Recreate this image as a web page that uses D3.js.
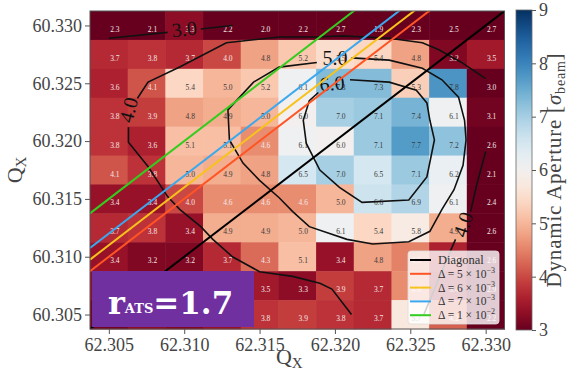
<!DOCTYPE html>
<html>
<head>
<meta charset="utf-8">
<script src="https://cdn.jsdelivr.net/npm/d3@7"></script>
<style>
  body { margin: 0; background: #fff; }
  svg { display: block; font-family: 'Liberation Serif', serif; }
</style>
</head>
<body>
<div id="chart"></div>
<script>
// grid of tunes (cell centres)
const qxValues = [62.305, 62.3075, 62.310, 62.3125, 62.315, 62.3175, 62.320, 62.3225, 62.325, 62.3275, 62.330];
const qyValues = [60.330, 60.3275, 60.325, 60.3225, 60.320, 60.3175, 60.315, 60.3125, 60.310, 60.3075, 60.305];

// dynamic aperture, rows from top (60.330) to bottom (60.305)
const daGrid = [
  [2.3, 2.1, 3.3, 2.2, 2.0, 2.2, 2.7, 1.9, 2.3, 2.5, 2.7],
  [3.7, 3.8, 3.7, 4.0, 4.8, 5.2, 5.5, 5.4, 4.8, 3.2, 3.5],
  [3.6, 4.1, 5.4, 5.0, 5.2, 6.1, 7.3, 7.3, 5.3, 7.8, 3.0],
  [3.8, 3.9, 4.8, 4.9, 5.0, 6.0, 7.0, 7.1, 7.4, 6.1, 3.1],
  [3.8, 3.6, 5.1, 5.1, 4.6, 6.1, 6.0, 7.1, 7.7, 7.2, 2.6],
  [4.1, 3.8, 5.0, 4.9, 4.8, 6.5, 7.0, 6.5, 7.1, 6.2, 2.1],
  [3.4, 3.4, 4.0, 4.6, 4.6, 4.6, 5.0, 6.6, 6.9, 6.1, 2.4],
  [3.7, 3.8, 3.4, 4.9, 4.9, 5.0, 6.1, 5.4, 5.8, 4.9, 2.6],
  [3.4, 3.2, 3.2, 3.7, 4.3, 5.1, 3.4, 4.8, 4.5, 3.6, 2.6],
  [3.3, 3.5, 3.4, 3.6, 3.5, 3.3, 3.9, 3.7, 4.6, 3.4, 2.9],
  [3.1, 3.3, 3.2, 3.4, 3.8, 3.9, 3.8, 3.7, 5.7, 4.2, 2.2]
];

const xTicks = [62.305, 62.310, 62.315, 62.320, 62.325, 62.330];
const yTicks = [60.305, 60.310, 60.315, 60.320, 60.325, 60.330];
const cbarTicks = [3, 4, 5, 6, 7, 8, 9];
const daRange = [3, 9];

// coupling lines Qy = Qx - 2 + delta
const deltas = [0, 0.005, 0.006, 0.007, 0.010];
const deltaMantissa = ['', '5', '6', '7', '1'];
const deltaExponent = ['', '\u22123', '\u22123', '\u22123', '\u22122'];

// contour lines (traced), split where the inline labels sit
const contour30a = [[62.3050, 60.3289], [62.3089, 60.3294]];
const contour30b = [[62.3111, 60.3297], [62.3132, 60.3300]];
const contour40a = [
  [62.3300, 60.3254], [62.3284, 60.3268], [62.3269, 60.3279], [62.3258, 60.3285],
  [62.3236, 60.3289], [62.3205, 60.3291], [62.3187, 60.3290], [62.3163, 60.3290],
  [62.3128, 60.3285], [62.3097, 60.3264], [62.3076, 60.3251], [62.3069, 60.3237]
];
const contour40b = [
  [62.3063, 60.3212], [62.3063, 60.3199], [62.3076, 60.3178], [62.3089, 60.3152],
  [62.3097, 60.3141], [62.3111, 60.3126], [62.3119, 60.3115], [62.3132, 60.3100],
  [62.3150, 60.3087], [62.3172, 60.3083], [62.3190, 60.3077], [62.3198, 60.3072],
  [62.3211, 60.3050]
];
const contour40c = [[62.3300, 60.3191], [62.3294, 60.3162], [62.3290, 60.3139]];
const contour40d = [
  [62.3280, 60.3115], [62.3274, 60.3097], [62.3266, 60.3072], [62.3259, 60.3050]
];
const contour50 = [
  [62.3211, 60.3272], [62.3236, 60.3270], [62.3258, 60.3263], [62.3271, 60.3253],
  [62.3282, 60.3238], [62.3286, 60.3218], [62.3287, 60.3201], [62.3285, 60.3179],
  [62.3279, 60.3158], [62.3271, 60.3141], [62.3263, 60.3122], [62.3249, 60.3113],
  [62.3225, 60.3111], [62.3208, 60.3115], [62.3183, 60.3126], [62.3172, 60.3139],
  [62.3163, 60.3151], [62.3150, 60.3166], [62.3139, 60.3181], [62.3130, 60.3201],
  [62.3129, 60.3227], [62.3146, 60.3251], [62.3163, 60.3264], [62.3188, 60.3268]
];
const contour60 = [
  [62.3210, 60.3253], [62.3236, 60.3251], [62.3254, 60.3244], [62.3261, 60.3233],
  [62.3263, 60.3218], [62.3266, 60.3201], [62.3261, 60.3169], [62.3249, 60.3149],
  [62.3218, 60.3147], [62.3203, 60.3160], [62.3190, 60.3175], [62.3181, 60.3198],
  [62.3179, 60.3218], [62.3183, 60.3235], [62.3189, 60.3242]
];
const contourLabels = [
  ['3.0', 62.3100, 60.3297],
  ['4.0', 62.3063, 60.3227],
  ['4.0', 62.3285, 60.3128],
  ['5.0', 62.3200, 60.3272],
  ['6.0', 62.3198, 60.3250]
];

const W = 568, H = 373;
const margin = { top: 11, left: 90, right: 63.5, bottom: 44 };
const width = W - margin.left - margin.right;
const height = H - margin.top - margin.bottom;
const step = qxValues[1] - qxValues[0];
const stepY = qyValues[0] - qyValues[1];

const svg = d3.select('#chart').append('svg')
  .attr('width', W).attr('height', H);

const x = d3.scaleLinear()
  .domain([qxValues[0] - step / 2, qxValues[qxValues.length - 1] + step / 2])
  .range([0, width]);
const y = d3.scaleLinear()
  .domain([qyValues[qyValues.length - 1] - stepY / 2, qyValues[0] + stepY / 2])
  .range([height, 0]);
const color = d3.scaleSequential(d3.interpolateRdBu).domain(daRange).clamp(true);

const chart = svg.append('g')
  .attr('transform', 'translate(' + margin.left + ',' + margin.top + ')');

chart.append('clipPath').attr('id', 'plot-clip')
  .append('rect').attr('width', width).attr('height', height);

// annotation box area (used to skip hidden cell labels)
const box = { x: 2, y: height - 58, w: 162, h: 56 };

// heatmap cells
const cells = [];
daGrid.forEach((row, i) => row.forEach((v, j) => cells.push({ qx: qxValues[j], qy: qyValues[i], v: v })));

chart.append('g').selectAll('rect')
  .data(cells)
  .enter()
  .append('rect')
  .attr('x', d => x(d.qx - step / 2))
  .attr('y', d => y(d.qy + stepY / 2))
  .attr('width', x(qxValues[0] + step / 2) - x(qxValues[0] - step / 2) + 0.5)
  .attr('height', y(qyValues[0] - stepY / 2) - y(qyValues[0] + stepY / 2) + 0.5)
  .attr('fill', d => color(d.v));

const visibleCells = cells.filter(d => {
  const px = x(d.qx) + 6, py = y(d.qy) + 4;
  return !(px < box.x + box.w + 8 && py > box.y - 4);
});

chart.append('g').selectAll('text')
  .data(visibleCells)
  .enter()
  .append('text')
  .attr('x', d => x(d.qx) + 6)
  .attr('y', d => y(d.qy) + 4)
  .attr('text-anchor', 'middle')
  .attr('dominant-baseline', 'central')
  .style('font-size', '7.5px')
  .style('fill', d => d.v < 4.7 ? '#f3e6e6' : '#3a3a3a')
  .text(d => d3.format('.1f')(d.v));

// contours
const line = d3.line().x(d => x(d[0])).y(d => y(d[1]));
const contourGroup = chart.append('g').attr('clip-path', 'url(#plot-clip)');
[contour30a, contour30b, contour40a, contour40b, contour40c, contour40d, contour50, contour60]
  .forEach(pts => {
    contourGroup.append('path')
      .attr('d', line(pts))
      .attr('fill', 'none')
      .attr('stroke', '#111')
      .attr('stroke-width', 1.6);
  });

const labelAngles = [-6, -75, -72, 0, -4];
chart.append('g').selectAll('text')
  .data(contourLabels)
  .enter()
  .append('text')
  .attr('transform', (d, i) => 'translate(' + x(d[1]) + ',' + y(d[2]) + ') rotate(' + labelAngles[i] + ')')
  .attr('text-anchor', 'middle')
  .attr('dominant-baseline', 'central')
  .style('font-size', '20px')
  .style('fill', '#111')
  .text(d => d[0]);

// diagonal and coupling lines
const lineColors = ['#000000', '#ff5424', '#f7c21b', '#3aa8ee', '#35cc1f'];
const xs = x.domain();
const lineGroup = chart.append('g').attr('clip-path', 'url(#plot-clip)');
deltas.forEach((dl, i) => {
  lineGroup.append('path')
    .attr('d', line(xs.map(q => [q, q - 2 + dl])))
    .attr('stroke', lineColors[i])
    .attr('stroke-width', 2)
    .attr('fill', 'none');
});

// frame
chart.append('rect')
  .attr('width', width).attr('height', height)
  .attr('fill', 'none').attr('stroke', '#555').attr('stroke-width', 1);

// axes
const xAxis = chart.append('g')
  .attr('transform', 'translate(0,' + height + ')')
  .call(d3.axisBottom(x).tickValues(xTicks).tickFormat(d3.format('.3f')).tickSize(5).tickPadding(4));
const yAxis = chart.append('g')
  .call(d3.axisLeft(y).tickValues(yTicks).tickFormat(d3.format('.3f')).tickSize(5).tickPadding(3));
[xAxis, yAxis].forEach(a => {
  a.select('.domain').remove();
  a.selectAll('line').attr('stroke', '#555');
  a.selectAll('text').style('font-size', '18px').style('fill', '#444').style('font-family', "'Liberation Serif', serif");
});

const xTitle = svg.append('text')
  .attr('x', margin.left + width / 2 - 8)
  .attr('y', 364)
  .attr('text-anchor', 'middle')
  .style('font-size', '22px').style('fill', '#444');
xTitle.append('tspan').text('Q');
xTitle.append('tspan').attr('dy', 4).style('font-size', '15px').text('X');

const yTitle = svg.append('text')
  .attr('transform', 'translate(22,' + (margin.top + height / 2) + ') rotate(-90)')
  .attr('text-anchor', 'middle')
  .style('font-size', '22px').style('fill', '#444');
yTitle.append('tspan').text('Q');
yTitle.append('tspan').attr('dy', 4).style('font-size', '15px').text('X');

// legend
const legend = chart.append('g')
  .attr('transform', 'translate(' + (width - 96.5) + ',' + (height - 78) + ')');
legend.append('rect')
  .attr('width', 91).attr('height', 73).attr('rx', 3)
  .attr('fill', '#fff').attr('fill-opacity', 0.8)
  .attr('stroke', '#ddd').attr('stroke-width', 0.8);
deltas.forEach((dl, i) => {
  const ly = 9 + i * 13.8;
  legend.append('line')
    .attr('x1', 2).attr('x2', 23).attr('y1', ly).attr('y2', ly)
    .attr('stroke', lineColors[i]).attr('stroke-width', 2);
  const t = legend.append('text')
    .attr('x', 30).attr('y', ly + 4)
    .style('font-size', '11.5px').style('fill', '#333');
  if (i === 0) {
    t.style('font-size', '12.5px').text('Diagonal');
  } else {
    t.append('tspan').text('\u0394 = ' + deltaMantissa[i] + ' \u00d7 10');
    t.append('tspan').attr('dy', -5).style('font-size', '8px').text(deltaExponent[i]);
  }
});

// annotation box
const boxG = chart.append('g');
boxG.append('rect')
  .attr('x', box.x).attr('y', box.y)
  .attr('width', box.w).attr('height', box.h)
  .attr('fill', '#7030a0');
const boxText = boxG.append('text')
  .attr('x', 18).attr('y', height - 15)
  .style('font-family', "'DejaVu Serif', serif")
  .style('font-weight', 'bold')
  .style('fill', '#fff');
boxText.append('tspan').style('font-size', '32px').text('r');
boxText.append('tspan').style('font-size', '13px').attr('dy', -1).text('ATS');
boxText.append('tspan').style('font-size', '31px').attr('dy', 1).text('=1.7');

// colorbar
const cbX = 426, cbW = 16;
const cbY = d3.scaleLinear().domain(daRange).range([height + 1, -1]);
const defs = svg.append('defs');
const grad = defs.append('linearGradient').attr('id', 'cb-grad')
  .attr('x1', 0).attr('y1', 1).attr('x2', 0).attr('y2', 0);
d3.range(0, 1.0001, 0.05).forEach(t => {
  grad.append('stop').attr('offset', t)
    .attr('stop-color', d3.interpolateRdBu(t));
});
chart.append('rect')
  .attr('x', cbX).attr('y', cbY(daRange[1]))
  .attr('width', cbW).attr('height', cbY(daRange[0]) - cbY(daRange[1]))
  .attr('fill', 'url(#cb-grad)')
  .attr('stroke', '#666').attr('stroke-width', 0.8);
const cbAxis = chart.append('g')
  .attr('transform', 'translate(' + (cbX + cbW) + ',0)')
  .call(d3.axisRight(cbY).tickValues(cbarTicks).tickFormat(d3.format('d')).tickSize(4).tickPadding(3));
cbAxis.select('.domain').remove();
cbAxis.selectAll('line').attr('stroke', '#555');
cbAxis.selectAll('text').style('font-size', '18px').style('fill', '#444').style('font-family', "'Liberation Serif', serif");

const cbTitle = svg.append('text')
  .attr('transform', 'translate(561,' + (margin.top + height / 2) + ') rotate(-90)')
  .attr('text-anchor', 'middle')
  .style('font-size', '21px').style('letter-spacing', '0.8px').style('fill', '#444');
cbTitle.append('tspan').text('Dynamic Aperture [');
cbTitle.append('tspan').style('font-style', 'italic').text('\u03c3');
cbTitle.append('tspan').attr('dy', 4).style('font-size', '14px').text('beam');
cbTitle.append('tspan').attr('dy', -4).text(']');
</script>
</body>
</html>
